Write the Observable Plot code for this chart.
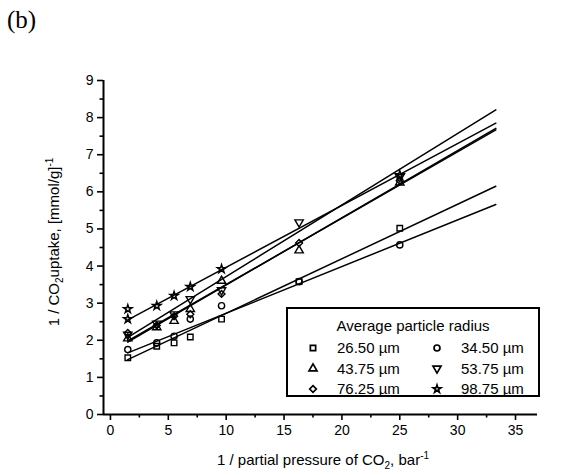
<!DOCTYPE html>
<html><head><meta charset="utf-8">
<script src="https://cdn.jsdelivr.net/npm/d3@7"></script>
<script src="https://cdn.jsdelivr.net/npm/@observablehq/plot@0.6"></script>
<style>
body{margin:0;background:#fff;font-family:"Liberation Sans",Arial,sans-serif;}
#wrap{position:relative;width:565px;height:475px;}
#tag{position:absolute;left:7px;top:6px;font-family:"Liberation Serif","Times New Roman",serif;font-size:25px;color:#000;}
#legend{position:absolute;left:286px;top:307px;width:254px;height:90px;box-sizing:border-box;border:2px solid #000;background:#fff;}
</style></head><body><div id="wrap"><div id="tag">(b)</div></div>
<script>
// ---- data ----
const pressureInv = [1.5, 4.0, 5.5, 6.9, 9.6, 16.3, 25.0];
const radiusLabels = ["26.50 µm", "34.50 µm", "43.75 µm", "53.75 µm", "76.25 µm", "98.75 µm"];
const symbolNames = ["square", "circle", "triangle", "triangleDown", "diamond2", "star"];
const uptake26 = [1.53, 1.84, 1.93, 2.09, 2.57, 3.58, 5.02];
const uptake34 = [1.75, 1.93, 2.11, 2.57, 2.93, 3.58, 4.57];
const uptake43 = [2.05, 2.35, 2.52, 2.84, 3.60, 4.42, 6.25];
const uptake53 = [2.15, 2.45, 2.70, 3.11, 3.35, 5.18, 6.40];
const uptake76 = [2.20, 2.40, 2.65, 2.70, 3.25, 4.62, 6.30];
const uptake98 = [2.84, 2.93, 3.20, 3.44, 3.92, null, 6.45];
const uptake98Repeat = [2.57, null, null, null, null, null, null];
const fitX = [1.5, 33.3];
const fitStart = [1.48, 1.66, 1.95, 2.08, 1.98, 2.55];
const fitEnd = [6.15, 5.66, 7.71, 8.21, 7.67, 7.85];
const xTicks = [0, 5, 10, 15, 20, 25, 30, 35];
const xMinorTicks = [2.5, 7.5, 12.5, 17.5, 22.5, 27.5, 32.5];
const yTicks = [0, 1, 2, 3, 4, 5, 6, 7, 8, 9];
const yMinorTicks = [0.5, 1.5, 2.5, 3.5, 4.5, 5.5, 6.5, 7.5, 8.5];
const xDomain = [-0.6, 36.9];
const yDomain = [0, 9];

// ---- tables ----
const seriesValues = [uptake26, uptake34, uptake43, uptake53, uptake76, uptake98, uptake98Repeat];
const seriesIndex = [0, 1, 2, 3, 4, 5, 5];
const points = [];
seriesValues.forEach((vals, k) => vals.forEach((v, j) => {
  const i = seriesIndex[k];
  if (v != null) points.push({series: radiusLabels[i], sym: symbolNames[i], x: pressureInv[j], y: v});
}));
const fits = [];
radiusLabels.forEach((s, i) => {
  fits.push({series: s, x: fitX[0], y: fitStart[i]});
  fits.push({series: s, x: fitX[1], y: fitEnd[i]});
});
const plain = points.filter(d => d.sym !== "triangleDown" && d.sym !== "star");
const down = points.filter(d => d.sym === "triangleDown");
const stars = points.filter(d => d.sym === "star");

const W = 565, H = 475;
const chart = Plot.plot({
  width: W, height: H,
  marginLeft: 103, marginRight: 28, marginTop: 80, marginBottom: 61,
  style: {fontFamily: '"Liberation Sans", Arial, sans-serif', fontSize: "14px", background: "#fff", color: "#000"},
  x: {domain: xDomain},
  y: {domain: yDomain},
  symbol: {domain: ["square", "circle", "triangle", "diamond2"], range: ["square", "circle", "triangle", "diamond2"]},
  marks: [
    Plot.line(fits, {x: "x", y: "y", z: "series", stroke: "#000", strokeWidth: 1.5}),
    Plot.dot(plain, {x: "x", y: "y", symbol: "sym", r: 3.1, stroke: "#000", strokeWidth: 1.4, fill: "none"}),
    Plot.dot(down, {x: "x", y: "y", symbol: "triangle", rotate: 180, r: 3.1, stroke: "#000", strokeWidth: 1.4, fill: "none"}),
    Plot.dot(stars, {x: "x", y: "y", symbol: "star", r: 2.6, stroke: "#000", strokeWidth: 1.5, fill: "none"}),
    Plot.axisX({ticks: xTicks, tickSize: 6, tickPadding: 5, strokeWidth: 1.6, fontSize: 14, label: null}),
    Plot.axisX({ticks: xMinorTicks, tickSize: 3.5, strokeWidth: 1.6, tickFormat: () => "", label: null}),
    Plot.axisY({ticks: yTicks, tickSize: 6, tickPadding: 4, strokeWidth: 1.6, fontSize: 14, label: null}),
    Plot.axisY({ticks: yMinorTicks, tickSize: 3.5, strokeWidth: 1.6, tickFormat: () => "", label: null}),
    Plot.ruleY([yDomain[0]], {stroke: "#000", strokeWidth: 2}),
    Plot.ruleX([xDomain[0]], {stroke: "#000", strokeWidth: 2})
  ]
});
const wrap = document.getElementById("wrap");
wrap.insertBefore(chart, wrap.firstChild);

// axis titles with sub/superscripts
const svg = d3.select(chart);
const xt = svg.append("text").attr("x", 323).attr("y", 465).attr("text-anchor", "middle")
  .attr("font-size", 15).attr("fill", "#000");
xt.append("tspan").text("1 / partial pressure of CO");
xt.append("tspan").attr("font-size", 10).attr("dy", 4).text("2");
xt.append("tspan").attr("dy", -4).text(", bar");
xt.append("tspan").attr("font-size", 10).attr("dy", -6).text("-1");

const yt = svg.append("text").attr("transform", "translate(59,242) rotate(-90)").attr("text-anchor", "middle")
  .attr("font-size", 15).attr("fill", "#000");
yt.append("tspan").text("1 / CO");
yt.append("tspan").attr("font-size", 10).attr("dy", 4).text("2");
yt.append("tspan").attr("dy", -4).text("uptake, [mmol/g]");
yt.append("tspan").attr("font-size", 10).attr("dy", -6).text("-1");

// legend
const leg = document.createElement("div");
leg.id = "legend";
wrap.appendChild(leg);
const ls = d3.select(leg).append("svg").attr("width", 250).attr("height", 86)
  .style("position", "absolute").style("left", "0px").style("top", "0px").style("overflow", "visible")
  .style("font-family", '"Liberation Sans", Arial, sans-serif');
ls.append("text").attr("x", 125).attr("y", 22).attr("text-anchor", "middle").attr("font-size", 15).text("Average particle radius");
const symMap = {square: d3.symbolSquare, circle: d3.symbolCircle, triangle: d3.symbolTriangle,
  triangleDown: d3.symbolTriangle, diamond2: d3.symbolDiamond2, star: d3.symbolStar};
radiusLabels.forEach((lab, i) => {
  const col = i % 2, row = Math.floor(i / 2);
  const sx = col === 0 ? 25 : 149, ty = 44 + row * 20.5;
  const size = symbolNames[i] === "star" ? 18 : 28;
  ls.append("path").attr("d", d3.symbol(symMap[symbolNames[i]], size)())
    .attr("transform", `translate(${sx},${ty - 5})` + (symbolNames[i] === "triangleDown" ? " rotate(180)" : ""))
    .attr("fill", "none").attr("stroke", "#000").attr("stroke-width", 1.7);
  ls.append("text").attr("x", sx + 24).attr("y", ty).attr("font-size", 15).text(lab);
});
</script></body></html>
